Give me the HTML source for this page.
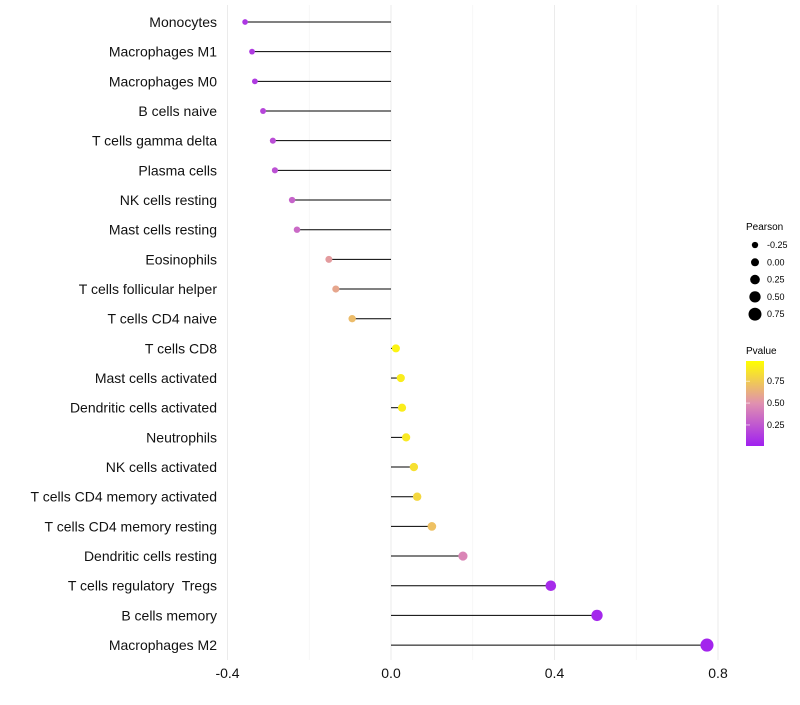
<!DOCTYPE html>
<html><head><meta charset="utf-8"><style>
body{margin:0;background:#fff;}
svg{font-family:"Liberation Sans",sans-serif;}
text{white-space:pre;}
</style></head><body>
<svg id="chart" width="800" height="700">
<defs><linearGradient id="pg" x1="0" y1="1" x2="0" y2="0">
<stop offset="0" stop-color="#a020f0"/><stop offset="0.5" stop-color="#e090b0"/><stop offset="1" stop-color="#ffff00"/>
</linearGradient></defs>
<g id="grid"></g><g id="marks"></g><g id="labels"></g>
<g font-size="9">
<text x="746" y="230" font-size="10">Pearson</text>
<g id="sizeleg"></g>
</g>
<g font-size="9">
<text x="746" y="354" font-size="10">Pvalue</text>
<rect x="746" y="361" width="18" height="85" fill="url(#pg)"/>
<g id="colleg"></g>
</g>
</svg>
<script>
const categories=["Monocytes","Macrophages M1","Macrophages M0","B cells naive","T cells gamma delta","Plasma cells","NK cells resting","Mast cells resting","Eosinophils","T cells follicular helper","T cells CD4 naive","T cells CD8","Mast cells activated","Dendritic cells activated","Neutrophils","NK cells activated","T cells CD4 memory activated","T cells CD4 memory resting","Dendritic cells resting","T cells regulatory  Tregs","B cells memory","Macrophages M2"];
const pearson=[-0.357,-0.34,-0.333,-0.313,-0.289,-0.284,-0.242,-0.23,-0.152,-0.135,-0.095,0.012,0.024,0.027,0.037,0.056,0.064,0.1,0.176,0.391,0.504,0.773];
const pvalue=[0.1,0.12,0.12,0.17,0.2,0.22,0.3,0.33,0.55,0.6,0.7,0.95,0.92,0.92,0.9,0.86,0.82,0.72,0.45,0.05,0.03,0.02];
const xTicks=[-0.4,0,0.4,0.8];
const xTickLabels=["-0.4","0.0","0.4","0.8"];
const sizeLegend=[-0.25,0,0.25,0.5,0.75];
const colorLegend=[0.25,0.5,0.75];
const NS="http://www.w3.org/2000/svg";
const X=v=>391+v*408.75;
const Y=i=>22+i*29.67;
const R=p=>4+3.3*p;
function mk(t,a,parent){const e=document.createElementNS(NS,t);for(const k in a)e.setAttribute(k,a[k]);parent.appendChild(e);return e;}
function lerp(a,b,t){return a.map((v,i)=>Math.round(v+(b[i]-v)*t));}
function col(p){const P=[160,32,240],M=[224,144,176],Yl=[255,255,0];const c=p<0.5?lerp(P,M,p/0.5):lerp(M,Yl,(p-0.5)/0.5);return `rgb(${c.join(',')})`;}
const grid=document.getElementById('grid'),marks=document.getElementById('marks'),labels=document.getElementById('labels');
[-0.2,0.2,0.6].forEach(v=>{const l=mk('line',{x1:X(v),x2:X(v),y1:5,y2:660,stroke:'#f3f3f3','stroke-width':0.6},grid);

});
xTicks.forEach((v,i)=>{const l=mk('line',{x1:X(v),x2:X(v),y1:5,y2:660,stroke:'#ebebeb','stroke-width':1},grid);


const t=mk('text',{x:X(v),y:678,'text-anchor':'middle','font-size':14,fill:'#111'},labels);t.textContent=xTickLabels[i];

});
categories.forEach((c,i)=>{const y=Y(i);
const s=mk('line',{x1:X(0),x2:X(pearson[i]),y1:y,y2:y,stroke:'#000','stroke-width':1},marks);


const d=mk('circle',{cx:X(pearson[i]),cy:y,r:R(pearson[i]),fill:col(pvalue[i])},marks);


const t=mk('text',{x:217,y:y+5,'text-anchor':'end','font-size':14,fill:'#111'},labels);t.textContent=c;

});
const sl=document.getElementById('sizeleg');
sizeLegend.forEach((v,i)=>{const y=245+i*17.3;
const c=mk('circle',{cx:755,cy:y,r:R(v),fill:'#000'},sl);


const t=mk('text',{x:767,y:y+3},sl);t.textContent=v.toFixed(2);

});
const cl=document.getElementById('colleg');
colorLegend.forEach(v=>{const y=446-(v-0.01)/0.97*85;
const t=mk('text',{x:767,y:y+3},cl);t.textContent=v.toFixed(2);


const l=mk('line',{x1:746,x2:750,y1:y,y2:y,stroke:'#fff','stroke-width':0.6},cl);

});
</script>
</body></html>
